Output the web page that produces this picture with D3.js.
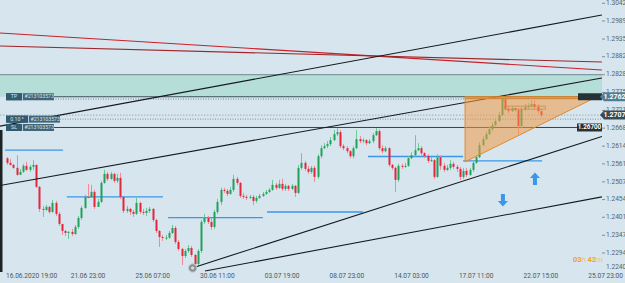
<!DOCTYPE html>
<meta charset="utf-8">
<script src="https://d3js.org/d3.v7.min.js"></script>
<style>
body { margin: 0; background: #d6e5ee; overflow: hidden; }
text { font-family: Roboto, "Noto Sans", sans-serif; }
</style>
<div id="chart"></div>
<script>
// H4 candles, open of each bar = close of the bar before
var firstOpen = 1.2578;
var closes = [
  1.2564,1.2558,1.2549,1.2528,1.2537,1.2555,1.2543,1.2552,1.2558,1.2492,
  1.2426,1.2423,1.2432,1.2417,1.2444,1.2411,1.2381,1.2360,1.2354,1.2357,
  1.2351,1.2372,1.2399,1.2429,1.2462,1.2461,1.2477,1.2432,1.2447,1.2504,
  1.2531,1.2516,1.2531,1.2510,1.2519,1.2462,1.2420,1.2426,1.2417,1.2411,
  1.2444,1.2417,1.2414,1.2420,1.2426,1.2393,1.2360,1.2342,1.2339,1.2340,
  1.2354,1.2369,1.2327,1.2306,1.2285,1.2300,1.2309,1.2288,1.2261,1.2300,
  1.2387,1.2399,1.2387,1.2372,1.2417,1.2447,1.2483,1.2480,1.2471,1.2483,
  1.2516,1.2504,1.2465,1.2462,1.2459,1.2462,1.2450,1.2459,1.2465,1.2471,
  1.2477,1.2483,1.2498,1.2489,1.2501,1.2486,1.2495,1.2486,1.2495,1.2474,
  1.2549,1.2564,1.2546,1.2537,1.2549,1.2522,1.2584,1.2608,1.2614,1.2620,
  1.2632,1.2650,1.2656,1.2614,1.2608,1.2599,1.2584,1.2608,1.2635,1.2629,
  1.2632,1.2623,1.2629,1.2647,1.2659,1.2608,1.2599,1.2608,1.2558,1.2549,
  1.2513,1.2555,1.2552,1.2555,1.2578,1.2587,1.2602,1.2608,1.2593,1.2584,
  1.2570,1.2572,1.2522,1.2581,1.2555,1.2543,1.2549,1.2561,1.2552,1.2546,
  1.2522,1.2540,1.2528,1.2543,1.2564,1.2581,1.2617,1.2635,1.2650,1.2665,
  1.2677,1.2689,1.2707,1.2755,1.2725,1.2719,1.2728,1.2722,1.2674,1.2725,
  1.2731,1.2734,1.2740,1.2731,1.2719,1.2707];
var highs = [
  1.2581,1.2575,1.2561,1.2587,1.2546,1.2561,1.2567,1.2558,1.2572,1.2558,
  1.2495,1.2435,1.2438,1.2435,1.2453,1.2450,1.2417,1.2381,1.2363,1.2360,
  1.2366,1.2378,1.2405,1.2435,1.2468,1.2501,1.2498,1.2483,1.2456,1.2510,
  1.2543,1.2537,1.2537,1.2534,1.2531,1.2534,1.2465,1.2435,1.2429,1.2423,
  1.2459,1.2447,1.2426,1.2429,1.2432,1.2429,1.2396,1.2363,1.2348,1.2348,
  1.2360,1.2378,1.2375,1.2333,1.2309,1.2306,1.2318,1.2315,1.2291,1.2306,
  1.2393,1.2411,1.2405,1.2399,1.2423,1.2456,1.2489,1.2489,1.2486,1.2492,
  1.2528,1.2522,1.2507,1.2474,1.2468,1.2468,1.2468,1.2465,1.2471,1.2477,
  1.2483,1.2489,1.2513,1.2504,1.2513,1.2516,1.2501,1.2498,1.2501,1.2498,
  1.2558,1.2593,1.2570,1.2555,1.2555,1.2555,1.2590,1.2617,1.2623,1.2629,
  1.2641,1.2662,1.2668,1.2662,1.2620,1.2614,1.2602,1.2614,1.2662,1.2644,
  1.2638,1.2635,1.2635,1.2653,1.2668,1.2665,1.2617,1.2614,1.2611,1.2561,
  1.2552,1.2561,1.2561,1.2564,1.2584,1.2596,1.2647,1.2623,1.2614,1.2596,
  1.2590,1.2581,1.2575,1.2590,1.2587,1.2564,1.2558,1.2572,1.2567,1.2558,
  1.2552,1.2549,1.2549,1.2549,1.2572,1.2587,1.2626,1.2644,1.2659,1.2674,
  1.2686,1.2698,1.2716,1.2764,1.2761,1.2734,1.2734,1.2731,1.2728,1.2731,
  1.2740,1.2743,1.2752,1.2752,1.2740,1.2725];
var lows = [
  1.2558,1.2555,1.2546,1.2525,1.2531,1.2534,1.2540,1.2537,1.2543,1.2489,
  1.2417,1.2402,1.2420,1.2411,1.2414,1.2405,1.2375,1.2348,1.2345,1.2336,
  1.2345,1.2348,1.2366,1.2393,1.2426,1.2459,1.2459,1.2426,1.2435,1.2444,
  1.2501,1.2510,1.2513,1.2504,1.2504,1.2456,1.2414,1.2414,1.2408,1.2402,
  1.2408,1.2411,1.2408,1.2405,1.2414,1.2387,1.2354,1.2312,1.2330,1.2333,
  1.2336,1.2351,1.2321,1.2300,1.2258,1.2279,1.2294,1.2282,1.2252,1.2255,
  1.2294,1.2381,1.2381,1.2363,1.2366,1.2411,1.2438,1.2474,1.2465,1.2468,
  1.2477,1.2498,1.2459,1.2456,1.2453,1.2456,1.2438,1.2444,1.2456,1.2462,
  1.2468,1.2474,1.2480,1.2483,1.2486,1.2480,1.2480,1.2480,1.2483,1.2462,
  1.2471,1.2543,1.2540,1.2531,1.2531,1.2507,1.2516,1.2578,1.2605,1.2608,
  1.2614,1.2629,1.2644,1.2608,1.2602,1.2593,1.2578,1.2578,1.2605,1.2623,
  1.2623,1.2617,1.2620,1.2623,1.2644,1.2602,1.2593,1.2596,1.2552,1.2543,
  1.2477,1.2507,1.2546,1.2549,1.2552,1.2575,1.2584,1.2599,1.2587,1.2578,
  1.2564,1.2567,1.2516,1.2519,1.2543,1.2537,1.2540,1.2543,1.2546,1.2537,
  1.2513,1.2516,1.2522,1.2525,1.2537,1.2561,1.2578,1.2614,1.2632,1.2647,
  1.2659,1.2674,1.2686,1.2704,1.2719,1.2713,1.2716,1.2716,1.2650,1.2668,
  1.2719,1.2725,1.2731,1.2725,1.2713,1.2701];

var timeLabels = ["16.06.2020 19:00","21.06 23:00","25.06 07:00","30.06 11:00","03.07 19:00",
                  "08.07 23:00","14.07 03:00","17.07 11:00","22.07 15:00","25.07 23:00"];
var timeTickIdx = [0,20,40,60,80,100,120,140,160,180];
var priceTicks = [1.3042,1.2989,1.2935,1.2882,1.2828,1.2775,1.2721,1.2668,1.2614,
                  1.2561,1.2507,1.2454,1.2401,1.2347,1.2294,1.2240];

// drawing objects, anchors as [bar index, price]
var blackLines = [
  [[-2.2,1.2674],[183.9,1.3007]],
  [[-2.2,1.2496],[183.9,1.2818]],
  [[57.5,1.2250],[183.9,1.2643]],
  [[61.2,1.2240],[183.9,1.2462]]];
var redLines = [
  [[-2.2,1.2953],[183.9,1.2842]],
  [[-2.2,1.2914],[183.9,1.2866]]];
var zoneTop = 1.2828, zoneBottom = 1.2762;
var tpPrice = 1.2762, orderPrice = 1.2695, slPrice = 1.2670, lastPrice = 1.2707;
var orderTicket = "#213103573", orderLots = "0.10";
// weekly levels: [from index, to index, price]
var blueLevels = [[-0.6,17.3,1.2602],[18.5,48.2,1.2462],[49.8,79.1,1.2400],
                  [80.4,110,1.2417],[111.6,141,1.2583],[141,165.4,1.2570]];
var triangle = [[141.6,1.2762],[182.4,1.2762],[141.6,1.2567]];
var smallBox = [153.9,166.4,1.2734,1.2725];
var upArrow = [163.2,1.2516], downArrow = [153.3,1.2453];
var lowMark = [58,1.2252];
var timer = ["03","h ","42","m"];

var W = 625, H = 283;
var svg = d3.select("#chart").append("svg").attr("width", W).attr("height", H);

var x = d3.scaleLinear().domain([0, 180]).range([7, 7 + 3.235 * 180]);
var y = d3.scaleLinear().domain([1.2240, 1.3042]).range([3.3 + 0.0802 * 3338, 3.3]);

var plot = svg.append("g");
svg.append("clipPath").attr("id", "pc").append("rect")
  .attr("x", 0).attr("y", 0).attr("width", 602).attr("height", 272);
plot.attr("clip-path", "url(#pc)");

// supply zone
plot.append("rect")
  .attr("x", 0).attr("width", 602)
  .attr("y", y(zoneTop)).attr("height", y(zoneBottom) - y(zoneTop))
  .attr("fill", "#b6ded8");
plot.append("line").attr("x1", 0).attr("x2", 602)
  .attr("y1", y(zoneTop)).attr("y2", y(zoneTop))
  .attr("stroke", "#6e8790").attr("stroke-width", 1);

// left dark edge
svg.append("rect").attr("x", 0).attr("y", 130).attr("width", 2.5).attr("height", 142).attr("fill", "#1c2226");

// trend lines
var lineGen = d3.line().x(function(d){ return x(d[0]); }).y(function(d){ return y(d[1]); });
plot.selectAll(".red").data(redLines).enter().append("path")
  .attr("d", lineGen).attr("stroke", function(d,i){ return i == 0 ? "#c8202a" : "#a0262a"; })
  .attr("stroke-width", 1.1).attr("fill", "none");

// trade lines
plot.append("line").attr("x1", 53).attr("x2", 602).attr("y1", y(tpPrice)).attr("y2", y(tpPrice))
  .attr("stroke", "#3c4f58").attr("stroke-width", 1);
plot.append("line").attr("x1", 53).attr("x2", 602).attr("y1", y(tpPrice) + 2.3).attr("y2", y(tpPrice) + 2.3)
  .attr("stroke", "#5b6b73").attr("stroke-width", 0.8).attr("stroke-dasharray", "1,1.5");
plot.append("line").attr("x1", 60).attr("x2", 602).attr("y1", y(orderPrice)).attr("y2", y(orderPrice))
  .attr("stroke", "#6d7c84").attr("stroke-width", 0.8).attr("stroke-dasharray", "1,1.5");
plot.append("line").attr("x1", 0).attr("x2", 602).attr("y1", y(lastPrice)).attr("y2", y(lastPrice))
  .attr("stroke", "#8795a0").attr("stroke-width", 0.7).attr("stroke-dasharray", "1.5,1.5");
plot.append("line").attr("x1", 53).attr("x2", 602).attr("y1", y(slPrice)).attr("y2", y(slPrice))
  .attr("stroke", "#33434b").attr("stroke-width", 1);

// weekly blue levels
plot.selectAll(".lvl").data(blueLevels).enter().append("line")
  .attr("x1", function(d){ return x(d[0]); }).attr("x2", function(d){ return x(d[1]); })
  .attr("y1", function(d){ return y(d[2]); }).attr("y2", function(d){ return y(d[2]); })
  .attr("stroke", "#3a97ea").attr("stroke-width", 1.4);

// candles
var candles = closes.map(function(c, i){
  var o = i == 0 ? firstOpen : closes[i-1];
  return {i: i, o: o, c: c, h: Math.max(highs[i], o, c), l: Math.min(lows[i], o, c)};
});
var up = "#20a25a", down = "#e3273b";
var cg = plot.append("g");
cg.selectAll(".wick").data(candles).enter().append("line")
  .attr("x1", function(d){ return Math.round(x(d.i)) + 0.5; })
  .attr("x2", function(d){ return Math.round(x(d.i)) + 0.5; })
  .attr("y1", function(d){ return y(d.h); }).attr("y2", function(d){ return y(d.l); })
  .attr("stroke", function(d){ return d.c >= d.o ? "#6cc895" : "#ef8a96"; })
  .attr("stroke-width", 1);
cg.selectAll(".body").data(candles).enter().append("rect")
  .attr("x", function(d){ return Math.round(x(d.i)) - 0.5; })
  .attr("width", 2)
  .attr("y", function(d){ return y(Math.max(d.o, d.c)); })
  .attr("height", function(d){ return Math.max(1, Math.abs(y(d.o) - y(d.c))); })
  .attr("fill", function(d){ return d.c >= d.o ? up : down; });

// black channel lines
plot.selectAll(".blk").data(blackLines).enter().append("path")
  .attr("d", lineGen).attr("stroke", "#15191c").attr("stroke-width", 1.1).attr("fill", "none");

// triangle pattern
plot.append("path")
  .attr("d", lineGen(triangle) + "Z")
  .attr("fill", "#f39a45").attr("fill-opacity", 0.55)
  .attr("stroke", "#e08a2c").attr("stroke-width", 1);
plot.append("line").attr("x1", x(triangle[0][0])).attr("x2", x(triangle[1][0]))
  .attr("y1", y(tpPrice) + 1.5).attr("y2", y(tpPrice) + 1.5)
  .attr("stroke", "#d9893a").attr("stroke-width", 1.5);
plot.append("rect")
  .attr("x", x(smallBox[0])).attr("width", x(smallBox[1]) - x(smallBox[0]))
  .attr("y", y(smallBox[2])).attr("height", y(smallBox[3]) - y(smallBox[2]))
  .attr("fill", "none").attr("stroke", "#c98a4a").attr("stroke-width", 0.8);

// arrows
function arrowPath(cx, cy, s) {
  return "M" + cx + "," + (cy - 6.5 * s) +
    "L" + (cx + 5) + "," + (cy - 1 * s) + "L" + (cx + 2) + "," + (cy - 1 * s) +
    "L" + (cx + 2) + "," + (cy + 6 * s) + "L" + (cx - 2) + "," + (cy + 6 * s) +
    "L" + (cx - 2) + "," + (cy - 1 * s) + "L" + (cx - 5) + "," + (cy - 1 * s) + "Z";
}
svg.append("path").attr("d", arrowPath(x(upArrow[0]), y(upArrow[1]), 1)).attr("fill", "#3a97ea");
svg.append("path").attr("d", arrowPath(x(downArrow[0]), y(downArrow[1]), -1)).attr("fill", "#3a97ea");

// low marker
svg.append("circle").attr("cx", x(lowMark[0]) - 2).attr("cy", y(lowMark[1]) + 1).attr("r", 4.2)
  .attr("fill", "#8c9297").attr("stroke", "#c4cbd0").attr("stroke-width", 1);
svg.append("circle").attr("cx", x(lowMark[0]) - 2).attr("cy", y(lowMark[1]) + 1).attr("r", 1.6)
  .attr("fill", "#d8dde0");

// order labels at the left
function orderBox(yy, first, firstW) {
  var g = svg.append("g");
  var w = firstW + 32;
  g.append("rect").attr("x", 6).attr("y", yy - 3.5).attr("width", w).attr("height", 7).attr("fill", "#3f6579");
  g.append("rect").attr("x", 6).attr("y", yy - 3.5).attr("width", firstW).attr("height", 7).attr("fill", "#335a6e");
  g.append("line").attr("x1", 6 + firstW + 0.5).attr("x2", 6 + firstW + 0.5).attr("y1", yy - 3.5).attr("y2", yy + 3.5)
    .attr("stroke", "#d6e5ee").attr("stroke-width", 0.8);
  g.append("text").attr("x", 6 + firstW / 2).attr("y", yy + 0.3).attr("text-anchor", "middle")
    .attr("dominant-baseline", "middle").attr("font-size", 5.2).attr("fill", "#d7e6ee").text(first);
  g.append("text").attr("x", 6 + firstW + 2.5).attr("y", yy + 0.3)
    .attr("dominant-baseline", "middle").attr("font-size", 5.2).attr("fill", "#d7e6ee").text(orderTicket);
}
orderBox(y(tpPrice), "TP", 16);
orderBox(y(orderPrice), orderLots + " ^", 22);
orderBox(y(slPrice), "SL", 16);

// right side price tags
svg.append("rect").attr("x", 578).attr("y", y(tpPrice) - 3.5).attr("width", 24).attr("height", 7).attr("fill", "#263238");
svg.append("rect").attr("x", 577).attr("y", y(slPrice) - 4).attr("width", 25).attr("height", 8).attr("fill", "#263238");
svg.append("text").attr("x", 589.5).attr("y", y(slPrice) + 0.3).attr("text-anchor", "middle")
  .attr("dominant-baseline", "middle").attr("font-size", 6.3).attr("font-weight", "bold").attr("fill", "#ffffff")
  .text(slPrice.toFixed(5));

// price axis
var ay = svg.append("g");
ay.selectAll(".pt").data(priceTicks).enter().append("text")
  .attr("x", 606).attr("y", function(d){ return Math.min(y(d), 267); })
  .attr("dominant-baseline", "middle").attr("font-size", 6.6).attr("fill", "#59646b")
  .text(function(d){ return d.toFixed(4); });
ay.selectAll(".pm").data(priceTicks.slice(0, -1)).enter().append("line")
  .attr("x1", 602).attr("x2", 605).attr("y1", function(d){ return y(d); }).attr("y2", function(d){ return y(d); })
  .attr("stroke", "#6d777d").attr("stroke-width", 0.8);

function priceTag(p, color) {
  var yy = y(p);
  svg.append("path")
    .attr("d", "M600," + yy + "L604," + (yy - 4.5) + "L625," + (yy - 4.5) + "L625," + (yy + 4.5) + "L604," + (yy + 4.5) + "Z")
    .attr("fill", color);
  svg.append("text").attr("x", 614.5).attr("y", yy + 0.4).attr("text-anchor", "middle")
    .attr("dominant-baseline", "middle").attr("font-size", 7).attr("font-weight", "bold").attr("fill", "#ffffff")
    .text(p.toFixed(4));
}
priceTag(tpPrice, "#4f7f98");
priceTag(lastPrice, "#3a4a52");

// time axis
svg.selectAll(".tl").data(timeTickIdx).enter().append("text")
  .attr("x", function(d){ return x(d) - 1; }).attr("y", 278)
  .attr("font-size", 6.6).attr("fill", "#4d575d")
  .text(function(d, i){ return timeLabels[i]; });

// bar timer
var tt = svg.append("text").attr("x", 573).attr("y", 262).attr("font-size", 7.5);
tt.selectAll("tspan").data(timer).enter().append("tspan")
  .attr("fill", function(d, i){ return i % 2 == 0 ? "#f3a327" : "#e9bf86"; })
  .attr("font-weight", function(d, i){ return i % 2 == 0 ? "bold" : "normal"; })
  .text(function(d){ return d; });
</script>
